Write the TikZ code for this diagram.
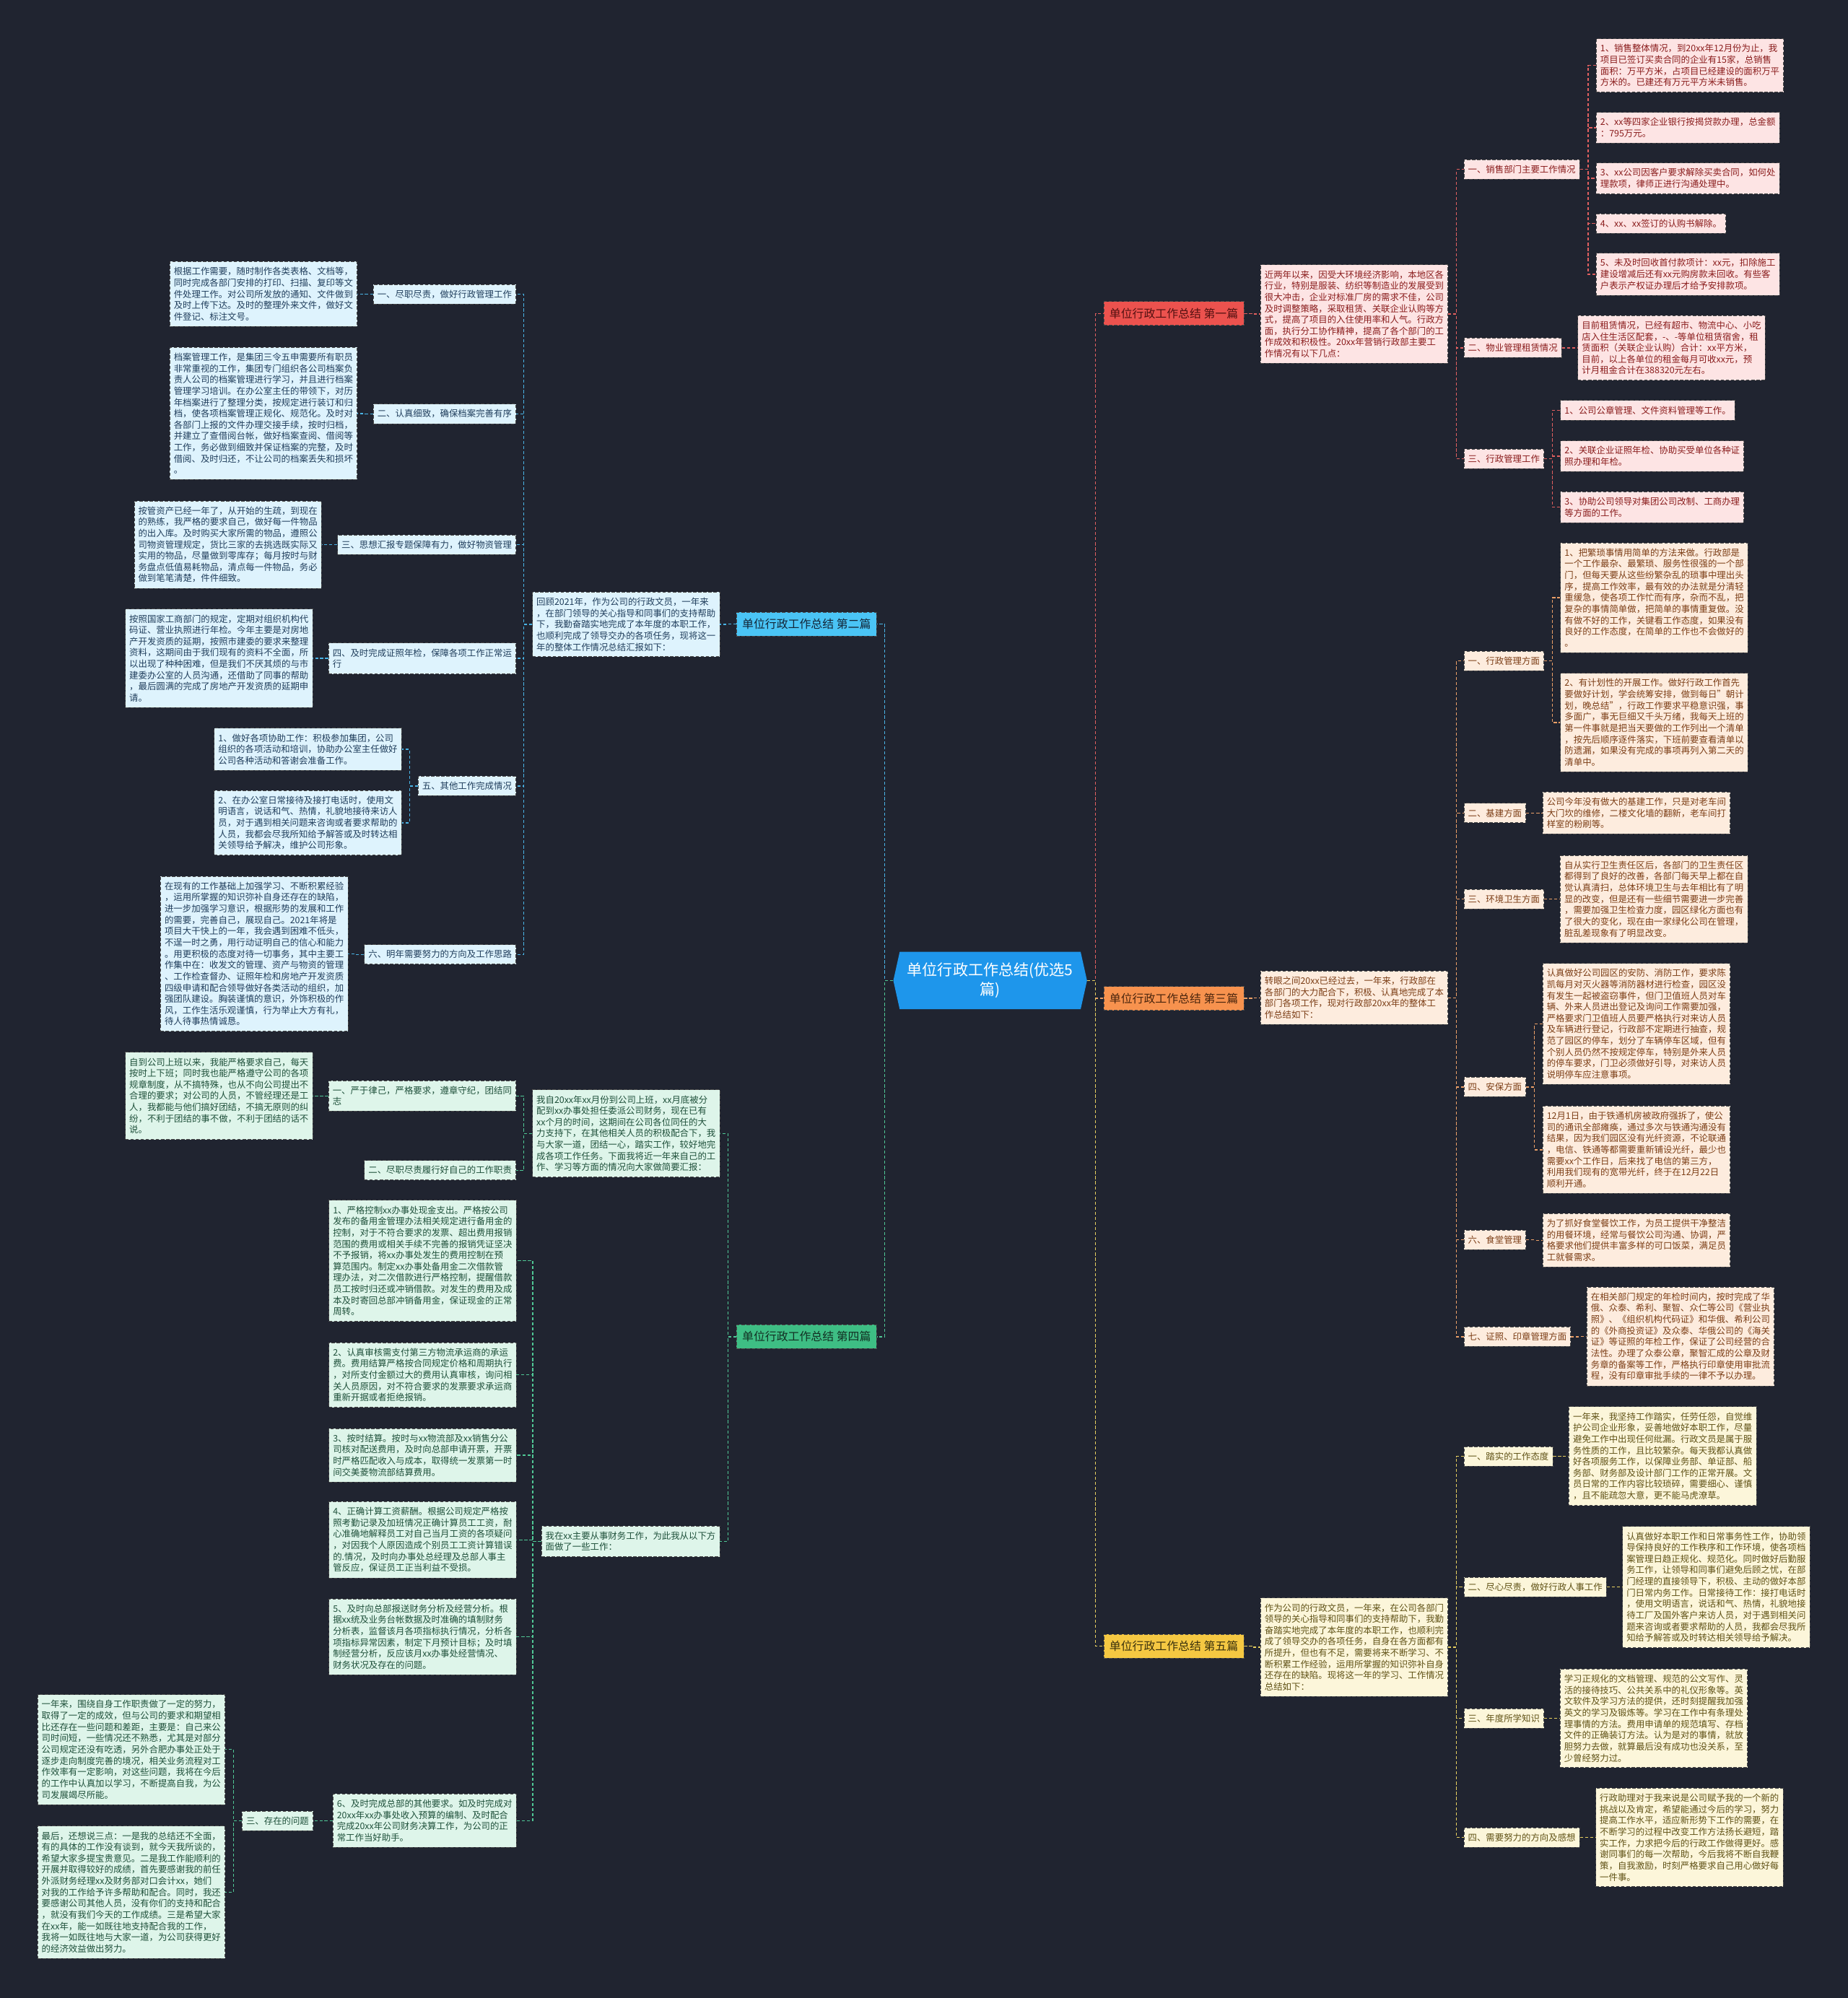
\documentclass[tikz,border=0pt]{standalone}
\usepackage{fontspec}
\setmainfont{Noto Sans CJK SC}
\definecolor{NightBg}{RGB}{32,36,48}
\definecolor{RootBlue}{RGB}{30,150,235}
\definecolor{EdgeGray}{RGB}{72,72,72}
\definecolor{RedTopic}{RGB}{236,82,78}
\definecolor{RedLink}{RGB}{226,96,96}
\definecolor{RedLeaf}{RGB}{253,228,228}
\definecolor{RedInk}{RGB}{138,28,28}
\definecolor{BlueTopic}{RGB}{74,196,245}
\definecolor{BlueLink}{RGB}{74,180,230}
\definecolor{BlueLeaf}{RGB}{222,243,253}
\definecolor{BlueInk}{RGB}{32,62,92}
\definecolor{OrangeTopic}{RGB}{247,146,78}
\definecolor{OrangeLink}{RGB}{236,160,104}
\definecolor{OrangeLeaf}{RGB}{253,236,222}
\definecolor{OrangeInk}{RGB}{124,62,22}
\definecolor{GreenTopic}{RGB}{62,190,132}
\definecolor{GreenLink}{RGB}{80,200,150}
\definecolor{GreenLeaf}{RGB}{222,245,234}
\definecolor{GreenInk}{RGB}{30,80,58}
\definecolor{YellowTopic}{RGB}{245,200,66}
\definecolor{YellowLink}{RGB}{232,208,96}
\definecolor{YellowLeaf}{RGB}{252,246,218}
\definecolor{YellowInk}{RGB}{96,82,22}
\tikzset{
  box/.style={draw=EdgeGray,line width=0.6pt,dash pattern=on 1.3mm off 0.7mm,
    align=left,inner xsep=1.6mm,inner ysep=2.2mm,font=\fontsize{10}{12.6}\selectfont},
  topic/.style={box,inner xsep=2.2mm,inner ysep=2.6mm,font=\fontsize{12.8}{15}\selectfont},
  redbox/.style={box,fill=RedLeaf,text=RedInk},
  bluebox/.style={box,fill=BlueLeaf,text=BlueInk},
  orangebox/.style={box,fill=OrangeLeaf,text=OrangeInk},
  greenbox/.style={box,fill=GreenLeaf,text=GreenInk},
  yellowbox/.style={box,fill=YellowLeaf,text=YellowInk},
  link/.style={line width=1.1pt,dash pattern=on 1.2mm off 0.8mm}
}
\newcommand{\linkR}[3]{%
  \draw[link,#3] (#1.east)--++(6.5,0) |- (#2.west);}
\newcommand{\linkL}[3]{%
  \draw[link,#3] (#1.west)--++(-6.5,0) |- (#2.east);}

\begin{document}
\begin{tikzpicture}[x=0.5mm,y=-0.5mm]
  \fill[NightBg] (0,0) rectangle (1450,1568);
  \useasboundingbox (0,0) rectangle (1450,1568);
  % centre
  \fill[RootBlue] (706,747)--(848,747)--(853,769.5)--(848,792)--(706,792)--(701,769.5)--cycle;
  \node[font=\fontsize{17}{21.5}\selectfont,text=white,align=center,minimum width=76mm,
    minimum height=22.5mm,inner sep=0pt] (root) at (777,769.5) {单位行政工作总结(优选5\\篇)};

  % 第一篇
  \node[topic,fill=RedTopic,text=RedInk!60!black,anchor=west] (s1) at (866,246) {单位行政工作总结 第一篇};
  \node[redbox,anchor=west] (p1) at (989,246.5) {近两年以来，因受大环境经济影响，本地区各\\行业，特别是服装、纺织等制造业的发展受到\\很大冲击，企业对标准厂房的需求不佳，公司\\及时调整策略，采取租赁、关联企业认购等方\\式，提高了项目的入住使用率和人气。行政方\\面，执行分工协作精神，提高了各个部门的工\\作成效和积极性。20xx年营销行政部主要工\\作情况有以下几点：};
  \node[redbox,anchor=west] (a1) at (1148.6,133) {一、销售部门主要工作情况};
  \node[redbox,anchor=west] (a1l1) at (1252.4,51.3) {1、销售整体情况，到20xx年12月份为止，我\\项目已签订买卖合同的企业有15家，总销售\\面积：万平方米，占项目已经建设的面积万平\\方米的。已建还有万元平方米未销售。};
  \node[redbox,anchor=west] (a1l2) at (1252.4,100.2) {2、xx等四家企业银行按揭贷款办理，总金额\\：795万元。};
  \node[redbox,anchor=west] (a1l3) at (1252.4,140) {3、xx公司因客户要求解除买卖合同，如何处\\理款项，律师正进行沟通处理中。};
  \node[redbox,anchor=west] (a1l4) at (1252.4,175.5) {4、xx、xx签订的认购书解除。};
  \node[redbox,anchor=west] (a1l5) at (1252.4,215.2) {5、未及时回收首付款项计：xx元，扣除施工\\建设增减后还有xx元购房款未回收。有些客\\户表示产权证办理后才给予安排款项。};
  \node[redbox,anchor=west] (a2) at (1148.6,273) {二、物业管理租赁情况};
  \node[redbox,anchor=west] (a2l1) at (1238,273) {目前租赁情况，已经有超市、物流中心、小吃\\店入住生活区配套，-、-等单位租赁宿舍，租\\赁面积（关联企业认购）合计：xx平方米，\\目前，以上各单位的租金每月可收xx元，预\\计月租金合计在388320元左右。};
  \node[redbox,anchor=west] (a3) at (1148.6,360) {三、行政管理工作};
  \node[redbox,anchor=west] (a3l1) at (1224.4,322) {1、公司公章管理、文件资料管理等工作。};
  \node[redbox,anchor=west] (a3l2) at (1224.4,358) {2、关联企业证照年检、协助买受单位各种证\\照办理和年检。};
  \node[redbox,anchor=west] (a3l3) at (1224.4,398) {3、协助公司领导对集团公司改制、工商办理\\等方面的工作。};

  % 第三篇
  \node[topic,fill=OrangeTopic,text=OrangeInk!60!black,anchor=west] (s3) at (866,783.5) {单位行政工作总结 第三篇};
  \node[orangebox,anchor=west] (p3) at (989,783) {转眼之间20xx已经过去，一年来，行政部在\\各部门的大力配合下，积极、认真地完成了本\\部门各项工作，现对行政部20xx年的整体工\\作总结如下：};
  \node[orangebox,anchor=west] (c1) at (1148.6,518.6) {一、行政管理方面};
  \node[orangebox,anchor=west] (c1l1) at (1224.4,469) {1、把繁琐事情用简单的方法来做。行政部是\\一个工作最杂、最繁琐、服务性很强的一个部\\门，但每天要从这些纷繁杂乱的琐事中理出头\\序，提高工作效率，最有效的办法就是分清轻\\重缓急，使各项工作忙而有序，杂而不乱，把\\复杂的事情简单做，把简单的事情重复做。没\\有做不好的工作，关键看工作态度，如果没有\\良好的工作态度，在简单的工作也不会做好的\\。};
  \node[orangebox,anchor=west] (c1l2) at (1224.4,567) {2、有计划性的开展工作。做好行政工作首先\\要做好计划，学会统筹安排，做到每日"朝计\\划，晚总结"，行政工作要求平稳意识强，事\\多面广，事无巨细又千头万绪，我每天上班的\\第一件事就是把当天要做的工作列出一个清单\\，按先后顺序逐件落实，下班前要查看清单以\\防遗漏，如果没有完成的事项再列入第二天的\\清单中。};
  \node[orangebox,anchor=west] (c2) at (1148.6,638) {二、基建方面};
  \node[orangebox,anchor=west] (c2l1) at (1210.4,638) {公司今年没有做大的基建工作，只是对老车间\\大门坎的维修，二楼文化墙的翻新，老车间打\\样室的粉刷等。};
  \node[orangebox,anchor=west] (c3) at (1148.6,705.5) {三、环境卫生方面};
  \node[orangebox,anchor=west] (c3l1) at (1224.2,705.5) {自从实行卫生责任区后，各部门的卫生责任区\\都得到了良好的改善，各部门每天早上都在自\\觉认真清扫，总体环境卫生与去年相比有了明\\显的改变，但是还有一些细节需要进一步完善\\，需要加强卫生检查力度，园区绿化方面也有\\了很大的变化，现在由一家绿化公司在管理，\\脏乱差现象有了明显改变。};
  \node[orangebox,anchor=west] (c4) at (1148.6,853) {四、安保方面};
  \node[orangebox,anchor=west] (c4l1) at (1210.4,803.5) {认真做好公司园区的安防、消防工作，要求陈\\凯每月对灭火器等消防器材进行检查，园区没\\有发生一起被盗窃事件，但门卫值班人员对车\\辆、外来人员进出登记及询问工作需要加强，\\严格要求门卫值班人员要严格执行对来访人员\\及车辆进行登记，行政部不定期进行抽查，规\\范了园区的停车，划分了车辆停车区域，但有\\个别人员仍然不按规定停车，特别是外来人员\\的停车要求，门卫必须做好引导，对来访人员\\说明停车应注意事项。};
  \node[orangebox,anchor=west] (c4l2) at (1210.4,902.3) {12月1日，由于铁通机房被政府强拆了，使公\\司的通讯全部瘫痪，通过多次与铁通沟通没有\\结果，因为我们园区没有光纤资源，不论联通\\，电信、铁通等都需要重新铺设光纤，最少也\\需要xx个工作日，后来找了电信的第三方，\\利用我们现有的宽带光纤，终于在12月22日\\顺利开通。};
  \node[orangebox,anchor=west] (c6) at (1148.6,973) {六、食堂管理};
  \node[orangebox,anchor=west] (c6l1) at (1210.4,973.3) {为了抓好食堂餐饮工作，为员工提供干净整洁\\的用餐环境，经常与餐饮公司沟通、协调，严\\格要求他们提供丰富多样的可口饭菜，满足员\\工就餐需求。};
  \node[orangebox,anchor=west] (c7) at (1148.6,1049) {七、证照、印章管理方面};
  \node[orangebox,anchor=west] (c7l1) at (1245,1048.8) {在相关部门规定的年检时间内，按时完成了华\\俄、众泰、希利、聚智、众仁等公司《营业执\\照》、《组织机构代码证》和华俄、希利公司\\的《外商投资证》及众泰、华俄公司的《海关\\证》等证照的年检工作，保证了公司经营的合\\法性。办理了众泰公章，聚智汇成的公章及财\\务章的备案等工作，严格执行印章使用审批流\\程，没有印章审批手续的一律不予以办理。};

  % 第五篇
  \node[topic,fill=YellowTopic,text=YellowInk!60!black,anchor=west] (s5) at (866,1292) {单位行政工作总结 第五篇};
  \node[yellowbox,anchor=west] (p5) at (989,1292.7) {作为公司的行政文员，一年来，在公司各部门\\领导的关心指导和同事们的支持帮助下，我勤\\奋踏实地完成了本年度的本职工作，也顺利完\\成了领导交办的各项任务，自身在各方面都有\\所提升，但也有不足，需要将来不断学习、不\\断积累工作经验，运用所掌握的知识弥补自身\\还存在的缺陷。现将这一年的学习、工作情况\\总结如下：};
  \node[yellowbox,anchor=west] (e1) at (1148.6,1143) {一、踏实的工作态度};
  \node[yellowbox,anchor=west] (e1l1) at (1231,1142.7) {一年来，我坚持工作踏实，任劳任怨，自觉维\\护公司企业形象，妥善地做好本职工作，尽量\\避免工作中出现任何纰漏。行政文员是属于服\\务性质的工作，且比较繁杂。每天我都认真做\\好各项服务工作，以保障业务部、单证部、船\\务部、财务部及设计部门工作的正常开展。文\\员日常的工作内容比较琐碎，需要细心、谨慎\\，且不能疏忽大意，更不能马虎潦草。};
  \node[yellowbox,anchor=west] (e2) at (1148.6,1245.4) {二、尽心尽责，做好行政人事工作};
  \node[yellowbox,anchor=west] (e2l1) at (1273,1245.5) {认真做好本职工作和日常事务性工作，协助领\\导保持良好的工作秩序和工作环境，使各项档\\案管理日趋正规化、规范化。同时做好后勤服\\务工作，让领导和同事们避免后顾之忧，在部\\门经理的直接领导下，积极、主动的做好本部\\门日常内务工作。日常接待工作：接打电话时\\，使用文明语言，说话和气、热情，礼貌地接\\待工厂及国外客户来访人员，对于遇到相关问\\题来咨询或者要求帮助的人员，我都会尽我所\\知给予解答或及时转达相关领导给予解决。};
  \node[yellowbox,anchor=west] (e3) at (1148.6,1348.5) {三、年度所学知识};
  \node[yellowbox,anchor=west] (e3l1) at (1224,1348.5) {学习正规化的文档管理、规范的公文写作、灵\\活的接待技巧、公共关系中的礼仪形象等。英\\文软件及学习方法的提供，还时刻提醒我加强\\英文的学习及锻炼等。学习在工作中有条理处\\理事情的方法。费用申请单的规范填写、存档\\文件的正确装订方法。认为是对的事情，就放\\胆努力去做，就算最后没有成功也没关系，至\\少曾经努力过。};
  \node[yellowbox,anchor=west] (e4) at (1148.6,1442) {四、需要努力的方向及感想};
  \node[yellowbox,anchor=west] (e4l1) at (1252,1442) {行政助理对于我来说是公司赋予我的一个新的\\挑战以及肯定，希望能通过今后的学习，努力\\提高工作水平，适应新形势下工作的需要，在\\不断学习的过程中改变工作方法扬长避短，踏\\实工作，力求把今后的行政工作做得更好。感\\谢同事们的每一次帮助，今后我将不断自我鞭\\策，自我激励，时刻严格要求自己用心做好每\\一件事。};

  % 第二篇
  \node[topic,fill=BlueTopic,text=BlueInk!60!black,anchor=east] (s2) at (688,489.8) {单位行政工作总结 第二篇};
  \node[bluebox,anchor=east] (p2) at (565,490) {回顾2021年，作为公司的行政文员，一年来\\，在部门领导的关心指导和同事们的支持帮助\\下，我勤奋踏实地完成了本年度的本职工作，\\也顺利完成了领导交办的各项任务，现将这一\\年的整体工作情况总结汇报如下：};
  \node[bluebox,anchor=east] (b1) at (405,231) {一、尽职尽责，做好行政管理工作};
  \node[bluebox,anchor=east] (b1l1) at (280.4,230.7) {根据工作需要，随时制作各类表格、文档等，\\同时完成各部门安排的打印、扫描、复印等文\\件处理工作。对公司所发放的通知、文件做到\\及时上传下达。及时的整理外来文件，做好文\\件登记、标注文号。};
  \node[bluebox,anchor=east] (b2) at (405,324.7) {二、认真细致，确保档案完善有序};
  \node[bluebox,anchor=east] (b2l1) at (280.4,324.5) {档案管理工作，是集团三令五申需要所有职员\\非常重视的工作，集团专门组织各公司档案负\\责人公司的档案管理进行学习，并且进行档案\\管理学习培训。在办公室主任的带领下，对历\\年档案进行了整理分类，按规定进行装订和归\\档，使各项档案管理正规化、规范化。及时对\\各部门上报的文件办理交接手续，按时归档，\\并建立了查借阅台帐，做好档案查阅、借阅等\\工作，务必做到细致并保证档案的完整，及时\\借阅、及时归还，不让公司的档案丢失和损坏\\。};
  \node[bluebox,anchor=east] (b3) at (405,427.5) {三、思想汇报专题保障有力，做好物资管理};
  \node[bluebox,anchor=east] (b3l1) at (252.5,427.4) {按管资产已经一年了，从开始的生疏，到现在\\的熟练，我严格的要求自己，做好每一件物品\\的出入库。及时购买大家所需的物品，遵照公\\司物资管理规定，货比三家的去挑选既实际又\\实用的物品，尽量做到零库存；每月按时与财\\务盘点低值易耗物品，清点每一件物品，务必\\做到笔笔清楚，件件细致。};
  \node[bluebox,anchor=east] (b4) at (405,516.7) {四、及时完成证照年检，保障各项工作正常运\\行};
  \node[bluebox,anchor=east] (b4l1) at (245.5,516.6) {按照国家工商部门的规定，定期对组织机构代\\码证、营业执照进行年检。今年主要是对房地\\产开发资质的延期，按照市建委的要求来整理\\资料，这期间由于我们现有的资料不全面，所\\以出现了种种困难，但是我们不厌其烦的与市\\建委办公室的人员沟通，还借助了同事的帮助\\，最后圆满的完成了房地产开发资质的延期申\\请。};
  \node[bluebox,anchor=east] (b5) at (405,616.8) {五、其他工作完成情况};
  \node[bluebox,anchor=east] (b5l1) at (315.3,588) {1、做好各项协助工作：积极参加集团，公司\\组织的各项活动和培训，协助办公室主任做好\\公司各种活动和答谢会准备工作。};
  \node[bluebox,anchor=east] (b5l2) at (315.3,645.7) {2、在办公室日常接待及接打电话时，使用文\\明语言，说话和气、热情，礼貌地接待来访人\\员，对于遇到相关问题来咨询或者要求帮助的\\人员，我都会尽我所知给予解答或及时转达相\\关领导给予解决，维护公司形象。};
  \node[bluebox,anchor=east] (b6) at (405,749) {六、明年需要努力的方向及工作思路};
  \node[bluebox,anchor=east] (b6l1) at (273.2,748.5) {在现有的工作基础上加强学习、不断积累经验\\，运用所掌握的知识弥补自身还存在的缺陷，\\进一步加强学习意识，根据形势的发展和工作\\的需要，完善自己，展现自己。2021年将是\\项目大干快上的一年，我会遇到困难不低头，\\不逞一时之勇，用行动证明自己的信心和能力\\。用更积极的态度对待一切事务，其中主要工\\作集中在：收发文的管理、资产与物资的管理\\、工作检查督办、证照年检和房地产开发资质\\四级申请和配合领导做好各类活动的组织，加\\强团队建设。胸装谨慎的意识，外饰积极的作\\风，工作生活乐观谨慎，行为举止大方有礼，\\待人待事热情诚恳。};

  % 第四篇
  \node[topic,fill=GreenTopic,text=GreenInk!60!black,anchor=east] (s4) at (688,1049) {单位行政工作总结 第四篇};
  \node[greenbox,anchor=east] (p4a) at (565,889.5) {我自20xx年xx月份到公司上班，xx月底被分\\配到xx办事处担任委派公司财务，现在已有\\xx个月的时间，这期间在公司各位同任的大\\力支持下，在其他相关人员的积极配合下，我\\与大家一道，团结一心，踏实工作，较好地完\\成各项工作任务。下面我将近一年来自己的工\\作、学习等方面的情况向大家做简要汇报：};
  \node[greenbox,anchor=east] (d1) at (405,860) {一、严于律己，严格要求，遵章守纪，团结同\\志};
  \node[greenbox,anchor=east] (d1l1) at (245.5,860) {自到公司上班以来，我能严格要求自己，每天\\按时上下班；同时我也能严格遵守公司的各项\\规章制度，从不搞特殊，也从不向公司提出不\\合理的要求；对公司的人员，不管经理还是工\\人，我都能与他们搞好团结，不搞无原则的纠\\纷，不利于团结的事不做，不利于团结的话不\\说。};
  \node[greenbox,anchor=east] (d2) at (405,918.4) {二、尽职尽责履行好自己的工作职责};
  \node[greenbox,anchor=east] (p4b) at (565,1209.6) {我在xx主要从事财务工作，为此我从以下方\\面做了一些工作：};
  \node[greenbox,anchor=east] (f1) at (405.3,989.5) {1、严格控制xx办事处现金支出。严格按公司\\发布的备用金管理办法相关规定进行备用金的\\控制，对于不符合要求的发票、超出费用报销\\范围的费用或相关手续不完善的报销凭证坚决\\不予报销，将xx办事处发生的费用控制在预\\算范围内。制定xx办事处备用金二次借款管\\理办法，对二次借款进行严格控制，提醒借款\\员工按时归还或冲销借款。对发生的费用及成\\本及时寄回总部冲销备用金，保证现金的正常\\周转。};
  \node[greenbox,anchor=east] (f2) at (405.3,1079) {2、认真审核需支付第三方物流承运商的承运\\费。费用结算严格按合同规定价格和周期执行\\，对所支付金额过大的费用认真审核，询问相\\关人员原因，对不符合要求的发票要求承运商\\重新开据或者拒绝报销。};
  \node[greenbox,anchor=east] (f3) at (405.3,1142) {3、按时结算。按时与xx物流部及xx销售分公\\司核对配送费用，及时向总部申请开票，开票\\时严格匹配收入与成本，取得统一发票第一时\\间交美菱物流部结算费用。};
  \node[greenbox,anchor=east] (f4) at (405.3,1208.4) {4、正确计算工资薪酬。根据公司规定严格按\\照考勤记录及加班情况正确计算员工工资，耐\\心准确地解释员工对自己当月工资的各项疑问\\，对因我个人原因造成个别员工工资计算错误\\的.情况，及时向办事处总经理及总部人事主\\管反应，保证员工正当利益不受损。};
  \node[greenbox,anchor=east] (f5) at (405.3,1284.5) {5、及时向总部报送财务分析及经营分析。根\\据xx统及业务台帐数据及时准确的填制财务\\分析表，监督该月各项指标执行情况，分析各\\项指标异常因素，制定下月预计目标；及时填\\制经营分析，反应该月xx办事处经营情况、\\财务状况及存在的问题。};
  \node[greenbox,anchor=east] (f6) at (405.3,1428.8) {6、及时完成总部的其他要求。如及时完成对\\20xx年xx办事处收入预算的编制、及时配合\\完成20xx年公司财务决算工作，为公司的正\\常工作当好助手。};
  \node[greenbox,anchor=east] (d3) at (245.8,1429) {三、存在的问题};
  \node[greenbox,anchor=east] (d3l1) at (176.7,1373) {一年来，围绕自身工作职责做了一定的努力，\\取得了一定的成效，但与公司的要求和期望相\\比还存在一些问题和差距，主要是：自己来公\\司时间短，一些情况还不熟悉，尤其是对部分\\公司规定还没有吃透，另外合肥办事处正处于\\逐步走向制度完善的境况，相关业务流程对工\\作效率有一定影响，对这些问题，我将在今后\\的工作中认真加以学习，不断提高自我，为公\\司发展竭尽所能。};
  \node[greenbox,anchor=east] (d3l2) at (176.7,1485) {最后，还想说三点：一是我的总结还不全面，\\有的具体的工作没有谈到，就今天我所谈的，\\希望大家多提宝贵意见。二是我工作能顺利的\\开展并取得较好的成绩，首先要感谢我的前任\\外派财务经理xx及财务部对口会计xx，她们\\对我的工作给予许多帮助和配合。同时，我还\\要感谢公司其他人员，没有你们的支持和配合\\，就没有我们今天的工作成绩。三是希望大家\\在xx年，能一如既往地支持配合我的工作，\\我将一如既往地与大家一道，为公司获得更好\\的经济效益做出努力。};

  % links, right
  \linkR{root}{s1}{RedLink}
  \linkR{root}{s3}{OrangeLink}
  \linkR{root}{s5}{YellowLink}
  \linkR{s1}{p1}{RedLink}
  \linkR{p1}{a1}{RedLink}
  \linkR{p1}{a2}{RedLink}
  \linkR{p1}{a3}{RedLink}
  \linkR{a1}{a1l1}{RedLink}
  \linkR{a1}{a1l2}{RedLink}
  \linkR{a1}{a1l3}{RedLink}
  \linkR{a1}{a1l4}{RedLink}
  \linkR{a1}{a1l5}{RedLink}
  \linkR{a2}{a2l1}{RedLink}
  \linkR{a3}{a3l1}{RedLink}
  \linkR{a3}{a3l2}{RedLink}
  \linkR{a3}{a3l3}{RedLink}
  \linkR{s3}{p3}{OrangeLink}
  \linkR{p3}{c1}{OrangeLink}
  \linkR{p3}{c2}{OrangeLink}
  \linkR{p3}{c3}{OrangeLink}
  \linkR{p3}{c4}{OrangeLink}
  \linkR{p3}{c6}{OrangeLink}
  \linkR{p3}{c7}{OrangeLink}
  \linkR{c1}{c1l1}{OrangeLink}
  \linkR{c1}{c1l2}{OrangeLink}
  \linkR{c2}{c2l1}{OrangeLink}
  \linkR{c3}{c3l1}{OrangeLink}
  \linkR{c4}{c4l1}{OrangeLink}
  \linkR{c4}{c4l2}{OrangeLink}
  \linkR{c6}{c6l1}{OrangeLink}
  \linkR{c7}{c7l1}{OrangeLink}
  \linkR{s5}{p5}{YellowLink}
  \linkR{p5}{e1}{YellowLink}
  \linkR{p5}{e2}{YellowLink}
  \linkR{p5}{e3}{YellowLink}
  \linkR{p5}{e4}{YellowLink}
  \linkR{e1}{e1l1}{YellowLink}
  \linkR{e2}{e2l1}{YellowLink}
  \linkR{e3}{e3l1}{YellowLink}
  \linkR{e4}{e4l1}{YellowLink}
  % links, left
  \linkL{root}{s2}{BlueLink}
  \linkL{root}{s4}{GreenLink}
  \linkL{s2}{p2}{BlueLink}
  \linkL{p2}{b1}{BlueLink}
  \linkL{p2}{b2}{BlueLink}
  \linkL{p2}{b3}{BlueLink}
  \linkL{p2}{b4}{BlueLink}
  \linkL{p2}{b5}{BlueLink}
  \linkL{p2}{b6}{BlueLink}
  \linkL{b1}{b1l1}{BlueLink}
  \linkL{b2}{b2l1}{BlueLink}
  \linkL{b3}{b3l1}{BlueLink}
  \linkL{b4}{b4l1}{BlueLink}
  \linkL{b5}{b5l1}{BlueLink}
  \linkL{b5}{b5l2}{BlueLink}
  \linkL{b6}{b6l1}{BlueLink}
  \linkL{s4}{p4a}{GreenLink}
  \linkL{s4}{p4b}{GreenLink}
  \linkL{p4a}{d1}{GreenLink}
  \linkL{p4a}{d2}{GreenLink}
  \linkL{d1}{d1l1}{GreenLink}
  \linkL{p4b}{f1}{GreenLink}
  \linkL{p4b}{f2}{GreenLink}
  \linkL{p4b}{f3}{GreenLink}
  \linkL{p4b}{f4}{GreenLink}
  \linkL{p4b}{f5}{GreenLink}
  \linkL{p4b}{f6}{GreenLink}
  \linkL{f6}{d3}{GreenLink}
  \linkL{d3}{d3l1}{GreenLink}
  \linkL{d3}{d3l2}{GreenLink}
\end{tikzpicture}
\end{document}
